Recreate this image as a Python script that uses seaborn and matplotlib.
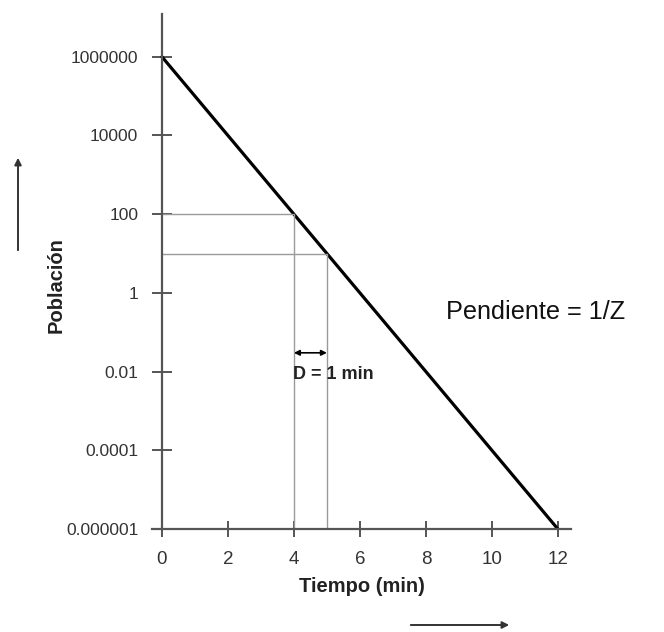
import matplotlib
matplotlib.use("Agg")
import matplotlib.pyplot as plt
import seaborn as sns
import pandas as pd

# Data
tiempo = [0, 12]
poblacion = [1e6, 1e-6]
d_tiempos = [4, 5]          # times at which the D-value is read
d_poblacion = [100, 10]     # population at those times
x_ticks = [0, 2, 4, 6, 8, 10, 12]
y_ticks = [1e-6, 1e-4, 1e-2, 1, 100, 1e4, 1e6]
y_tick_labels = ["0.000001", "0.0001", "0.01", "1", "100", "10000", "1000000"]

sns.set_style("white")
plt.rcParams['font.family'] = ['Liberation Sans', 'DejaVu Sans']

fig = plt.figure(figsize=(6.64, 6.32), dpi=100)
ax = fig.add_axes([0.229, 0.163, 0.631, 0.815])

df = pd.DataFrame({"Tiempo": tiempo, "Poblacion": poblacion})
sns.lineplot(data=df, x="Tiempo", y="Poblacion", ax=ax, color="black", linewidth=2.3)

# guide lines for the D-value
for t, p in zip(d_tiempos, d_poblacion):
    ax.plot([0, t], [p, p], color="#9a9a9a", linewidth=1)
    ax.plot([t, t], [p, 1e-6], color="#9a9a9a", linewidth=1)

ax.annotate("", xy=(d_tiempos[0], 0.03), xytext=(d_tiempos[1], 0.03),
            arrowprops=dict(arrowstyle="<|-|>", color="black", lw=1.2,
                            mutation_scale=8, shrinkA=0, shrinkB=0))
ax.text(d_tiempos[0] - 0.02, 0.0085, "D = 1 min", fontsize=13, fontweight="bold",
        ha="left", va="center", color="#222222")
ax.text(8.6, 0.33, "Pendiente = 1/Z", fontsize=18.2, ha="left", va="center", color="#111111")

ax.set_yscale("log")
ax.set_xlim(-0.3, 12.4)
ax.set_ylim(1e-6, 1.23e7)
ax.set_xticks(x_ticks)
ax.set_yticks(y_ticks)
ax.set_yticklabels(y_tick_labels)
ax.minorticks_off()

for side in ["top", "right"]:
    ax.spines[side].set_visible(False)
ax.spines["left"].set_position(("data", 0))
for side in ["left", "bottom"]:
    ax.spines[side].set_color("#555555")
    ax.spines[side].set_linewidth(1.6)

ax.tick_params(axis="y", left=True, direction="inout", length=14, width=1.4, color="#555555",
               labelsize=12.5, labelcolor="#333333", pad=10)
ax.tick_params(axis="x", bottom=True, direction="inout", length=12, width=1.4, color="#555555",
               labelsize=13.5, labelcolor="#333333", pad=10)
ax.set_xlabel("Tiempo (min)", fontsize=14.5, fontweight="bold", color="#222222", labelpad=6)
ax.set_ylabel("")
fig.text(0.084, 0.549, "Población", rotation=90, fontsize=14.5, fontweight="bold",
         color="#222222", ha="center", va="center")

# direction arrows outside the axes
fig.add_artist(matplotlib.patches.FancyArrowPatch(
    (18 / 664, 1 - 253 / 632), (18 / 664, 1 - 155 / 632), transform=fig.transFigure,
    arrowstyle="-|>", mutation_scale=10, color="#333333", lw=1.4))
fig.add_artist(matplotlib.patches.FancyArrowPatch(
    (408 / 664, 1 - 625 / 632), (512 / 664, 1 - 625 / 632), transform=fig.transFigure,
    arrowstyle="-|>", mutation_scale=10, color="#333333", lw=1.4))

fig.savefig("out.png", dpi=100)
